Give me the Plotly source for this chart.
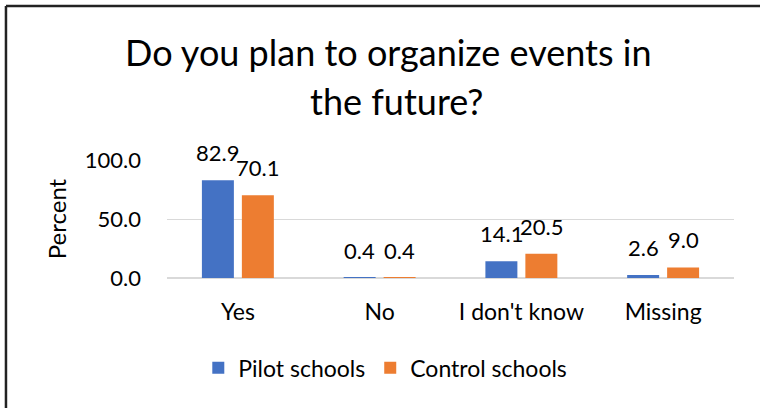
import plotly.graph_objects as go

categories = ["Yes", "No", "I don't know", "Missing"]
pilot = [82.9, 0.4, 14.1, 2.6]
control = [70.1, 0.4, 20.5, 9.0]
series_names = ["Pilot schools", "Control schools"]
y_ticks = [0, 50, 100]
y_tick_labels = ["0.0", "50.0", "100.0"]

FONT = "Lato"
BLUE = "#4472C4"
ORANGE = "#ED7D31"

fig = go.Figure()
fig.add_trace(go.Bar(x=categories, y=pilot, name=series_names[0],
                     marker=dict(color=BLUE, line=dict(width=0))))
fig.add_trace(go.Bar(x=categories, y=control, name=series_names[1],
                     marker=dict(color=ORANGE, line=dict(width=0))))

# value labels sitting above each bar
annotations = []
for vals, dx in ((pilot, -20), (control, 20)):
    for c, v in zip(categories, vals):
        annotations.append(dict(x=c, y=v, xref="x", yref="y", text=f"{v:.1f}",
                                showarrow=False, xshift=dx, yshift=12,
                                yanchor="bottom", xanchor="center",
                                font=dict(family=FONT, size=22, color="#000000")))

# two-line chart title
annotations.append(dict(text="Do you plan to organize events in", xref="paper", yref="paper",
                        x=0.39, y=1.915, xanchor="center", yanchor="middle", showarrow=False,
                        font=dict(family=FONT, size=36, color="#000000")))
annotations.append(dict(text="the future?", xref="paper", yref="paper",
                        x=0.405, y=1.50, xanchor="center", yanchor="middle", showarrow=False,
                        font=dict(family=FONT, size=36, color="#000000")))

# frame lines along the top and left of the figure
shapes = [
    dict(type="line", xref="paper", yref="paper", x0=-0.284, x1=1.05, y0=2.305, y1=2.305,
         line=dict(color="#222222", width=2.5)),
    dict(type="line", xref="paper", yref="paper", x0=-0.284, x1=-0.284, y0=2.305, y1=-1.2,
         line=dict(color="#222222", width=2.5)),
]

fig.update_layout(
    width=760, height=408,
    margin=dict(l=167, r=26, t=160, b=130),
    paper_bgcolor="white", plot_bgcolor="white",
    barmode="group", bargap=0.436, bargroupgap=0.2,
    font=dict(family=FONT, size=22, color="#000000"),
    showlegend=True,
    legend=dict(orientation="h", x=0.385, xanchor="center", y=-0.76, yanchor="middle",
                font=dict(family=FONT, size=23), itemwidth=30, traceorder="normal"),
    annotations=annotations,
    shapes=shapes,
)
fig.update_xaxes(showgrid=False, showline=False, ticks="", ticklabelstandoff=18,
                 tickfont=dict(family=FONT, size=23))
fig.update_yaxes(range=[0, 100], tickvals=y_ticks, ticktext=y_tick_labels,
                 showgrid=True, gridcolor="#D9D9D9", gridwidth=1,
                 zeroline=True, zerolinecolor="#D9D9D9", zerolinewidth=2,
                 showline=False, ticks="", ticklabelstandoff=25,
                 tickfont=dict(family=FONT, size=22),
                 title=dict(text="Percent", standoff=11, font=dict(family=FONT, size=24)))

fig.write_html("out.html")
